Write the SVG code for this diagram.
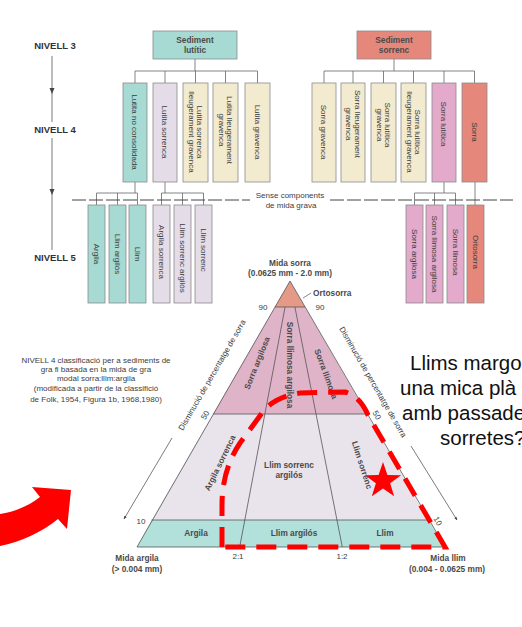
<svg xmlns="http://www.w3.org/2000/svg" width="522" height="627" viewBox="0 0 522 627">
<defs>
<style>
.t{font-family:"Liberation Sans",Arial,sans-serif;font-size:8px;fill:#3c3c3c}
.tb{font-family:"Liberation Sans",Arial,sans-serif;font-size:8.3px;font-weight:bold;fill:#4a4a4a}
.lv{font-family:"Liberation Sans",Arial,sans-serif;font-size:9.5px;font-weight:bold;fill:#333}
.big{font-family:"Liberation Sans",Arial,sans-serif;font-size:20.5px;fill:#111}
.box{stroke:#8a8a8a;stroke-width:0.8}
.teal{fill:#a6dad2}.lav{fill:#e4dde8}.cream{fill:#f3ebcf}.pink{fill:#e3aacb}.salmon{fill:#e5877b}
.conn{stroke:#666;stroke-width:0.8;fill:none}
.edge{stroke:#555;stroke-width:0.8;fill:none}
</style>
<marker id="ah" viewBox="0 0 10 10" refX="9" refY="5" markerWidth="5" markerHeight="5" orient="auto">
<path d="M0,1 L10,5 L0,9 Z" fill="#444"/>
</marker>
</defs>
<rect width="522" height="627" fill="#fff"/>

<g id="levels">
<text class="lv" x="55" y="49" text-anchor="middle">NIVELL 3</text>
<text class="lv" x="55" y="133" text-anchor="middle">NIVELL 4</text>
<text class="lv" x="55" y="261" text-anchor="middle">NIVELL 5</text>
<path d="M52,56 V122 M52,138 V250" stroke="#555" stroke-width="0.8"/>
<polygon points="49.5,88 54.5,88 52,94" fill="#444"/>
<polygon points="49.5,189 54.5,189 52,195" fill="#444"/>
</g>

<g id="connectors" class="conn">
<path d="M195,59 V71 M135,71 H257.5 M135,71 V83 M165,71 V83 M195.5,71 V83 M225.5,71 V83 M257.5,71 V83"/>
<path d="M394,59 V71 M324,71 H474.5 M324,71 V83 M353,71 V83 M383.5,71 V83 M413.5,71 V83 M444,71 V83 M474.5,71 V83"/>
<path d="M135,182 V193 M96.5,193 H137.5 M96.5,193 V205 M117.5,193 V205 M137.5,193 V205"/>
<path d="M165,182 V193 M161.5,193 H203.5 M161.5,193 V205 M182.5,193 V205 M203.5,193 V205"/>
<path d="M444,182 V193 M414.5,193 H455.5 M414.5,193 V205 M434.5,193 V205 M455.5,193 V205"/>
<path d="M475,182 V205"/>
<path d="M72,200 H250 M330,200 H513" stroke="#444" stroke-width="1" stroke-dasharray="14 3"/>
</g>
<g id="gravel-note">
<text class="t" x="290" y="198" text-anchor="middle">Sense components</text>
<text class="t" x="291" y="208" text-anchor="middle">de mida grava</text>
</g>

<g id="sediment-lutitic"><rect class="box teal" x="153" y="31" width="84" height="28"/>
<text class="tb" x="195" y="43" text-anchor="middle">Sediment</text><text class="tb" x="195" y="53" text-anchor="middle">lutític</text></g>
<g id="sediment-sorrenc"><rect class="box salmon" x="357" y="31" width="74" height="28"/>
<text class="tb" x="394" y="43" text-anchor="middle">Sediment</text><text class="tb" x="394" y="53" text-anchor="middle">sorrenc</text></g>

<g id="n4-lutita-no-consolidada"><rect class="box teal" x="123" y="83" width="24" height="99"/>
<text class="t" transform="translate(135,132) rotate(90)" text-anchor="middle" y="2.8">Lutita no consolidada</text></g>
<g id="n4-lutita-sorrenca"><rect class="box lav" x="153" y="83" width="24" height="99"/>
<text class="t" transform="translate(165,132) rotate(90)" text-anchor="middle" y="2.8">Lutita sorrenca</text></g>
<g id="n4-lutita-sorrenca-lleug-gravenca"><rect class="box cream" x="183" y="83" width="25" height="99"/>
<text class="t" transform="translate(195.5,132) rotate(90)" text-anchor="middle"><tspan x="0" y="-1.5">Lutita sorrenca</tspan><tspan x="0" y="7">lleugerament gravenca</tspan></text></g>
<g id="n4-lutita-lleug-gravenca"><rect class="box cream" x="213" y="83" width="25" height="99"/>
<text class="t" transform="translate(225.5,130) rotate(90)" text-anchor="middle"><tspan x="0" y="-1.5">Lutita lleugerament</tspan><tspan x="0" y="7">gravenca</tspan></text></g>
<g id="n4-lutita-gravenca"><rect class="box cream" x="245" y="83" width="25" height="99"/>
<text class="t" transform="translate(257.5,132) rotate(90)" text-anchor="middle" y="2.8">Lutita gravenca</text></g>

<g id="n4-sorra-gravenca"><rect class="box cream" x="312" y="83" width="24" height="99"/>
<text class="t" transform="translate(324,132) rotate(90)" text-anchor="middle" y="2.8">Sorra gravenca</text></g>
<g id="n4-sorra-lleug-gravenca"><rect class="box cream" x="341" y="83" width="24" height="99"/>
<text class="t" transform="translate(353,124) rotate(90)" text-anchor="middle"><tspan x="0" y="-1.5">Sorra lleugerament</tspan><tspan x="0" y="7">gravenca</tspan></text></g>
<g id="n4-sorra-lutitica-gravenca"><rect class="box cream" x="371" y="83" width="25" height="99"/>
<text class="t" transform="translate(383.5,125) rotate(90)" text-anchor="middle"><tspan x="0" y="-1.5">Sorra lutítica</tspan><tspan x="0" y="7">gravenca</tspan></text></g>
<g id="n4-sorra-lutitica-lleug-gravenca"><rect class="box cream" x="401" y="83" width="25" height="99"/>
<text class="t" transform="translate(413.5,132) rotate(90)" text-anchor="middle"><tspan x="0" y="-1.5">Sorra lutítica</tspan><tspan x="0" y="7">lleugerament gravenca</tspan></text></g>
<g id="n4-sorra-lutitica"><rect class="box pink" x="432" y="83" width="24" height="99"/>
<text class="t" transform="translate(444,124) rotate(90)" text-anchor="middle" y="2.8">Sorra lutítica</text></g>
<g id="n4-sorra"><rect class="box salmon" x="462" y="83" width="25" height="99"/>
<text class="t" transform="translate(474.5,132) rotate(90)" text-anchor="middle" y="2.8">Sorra</text></g>

<g id="n5-argila"><rect class="box teal" x="88" y="205" width="17" height="98"/>
<text class="t" transform="translate(96.5,254) rotate(90)" text-anchor="middle" y="2.8">Argila</text></g>
<g id="n5-llim-argilos"><rect class="box teal" x="109" y="205" width="17" height="98"/>
<text class="t" transform="translate(117.5,254) rotate(90)" text-anchor="middle" y="2.8">Llim argilós</text></g>
<g id="n5-llim"><rect class="box teal" x="129" y="205" width="17" height="98"/>
<text class="t" transform="translate(137.5,254) rotate(90)" text-anchor="middle" y="2.8">Llim</text></g>
<g id="n5-argila-sorrenca"><rect class="box lav" x="153" y="205" width="17" height="98"/>
<text class="t" transform="translate(161.5,252) rotate(90)" text-anchor="middle" y="2.8">Argila sorrenca</text></g>
<g id="n5-llim-sorrenc-argilos"><rect class="box lav" x="174" y="205" width="17" height="98"/>
<text class="t" transform="translate(182.5,258) rotate(90)" text-anchor="middle" y="2.8">Llim sorrenc argilós</text></g>
<g id="n5-llim-sorrenc"><rect class="box lav" x="195" y="205" width="17" height="98"/>
<text class="t" transform="translate(203.5,250) rotate(90)" text-anchor="middle" y="2.8">Llim sorrenc</text></g>

<g id="n5-sorra-argilosa"><rect class="box pink" x="406" y="205" width="17" height="98"/>
<text class="t" transform="translate(414.5,254) rotate(90)" text-anchor="middle" y="2.8">Sorra argilosa</text></g>
<g id="n5-sorra-llimosa-argilosa"><rect class="box pink" x="426" y="205" width="17" height="98"/>
<text class="t" transform="translate(434.5,254) rotate(90)" text-anchor="middle" y="2.8">Sorra llimosa argilosa</text></g>
<g id="n5-sorra-llimosa"><rect class="box pink" x="447" y="205" width="17" height="98"/>
<text class="t" transform="translate(455.5,252) rotate(90)" text-anchor="middle" y="2.8">Sorra llimosa</text></g>
<g id="n5-ortosorra"><rect class="box salmon" x="467" y="205" width="17" height="98"/>
<text class="t" transform="translate(475.5,252) rotate(90)" text-anchor="middle" y="2.8">Ortosorra</text></g>

<g id="note">
<text class="t" x="96" y="363" text-anchor="middle">NIVELL 4 classificació per a sediments de</text>
<text class="t" x="96" y="372" text-anchor="middle">gra fi basada en la mida de gra</text>
<text class="t" x="96" y="381" text-anchor="middle">modal sorra:llim:argila</text>
<text class="t" x="96" y="391" text-anchor="middle">(modificada a partir de la classifició</text>
<text class="t" x="96" y="402" text-anchor="middle">de Folk, 1954, Figura 1b, 1968,1980)</text>
</g>

<g id="triangle">
<polygon points="290,281 274.95,307 305.05,307" fill="#e49a86"/>
<polygon points="274.95,307 305.05,307 367,414 213,414" fill="#e0b4c8"/>
<polygon points="213,414 367,414 428.4,520 151.6,520" fill="#e9e3ec"/>
<polygon points="151.6,520 428.4,520 445,547 137,547" fill="#b2e0da"/>
<path class="edge" d="M274.95,307 H305.05 M213,414 H367 M151.6,520 H428.4 M285.1,307 L239.7,547 M294.9,307 L342.3,547"/>
<polygon class="edge" points="290,281 445,547 137,547"/>
<text class="tb" x="290" y="266" text-anchor="middle">Mida sorra</text>
<text class="tb" x="290" y="276" text-anchor="middle">(0.0625 mm - 2.0 mm)</text>
<path d="M303,298 L311,293" stroke="#555" stroke-width="0.7"/>
<text class="tb" x="313" y="296">Ortosorra</text>
<text class="t" x="263" y="310" text-anchor="middle">90</text>
<text class="t" x="320" y="310" text-anchor="middle">90</text>
<text class="t" transform="translate(205,415) rotate(-60)" text-anchor="middle" y="2.8">50</text>
<text class="t" transform="translate(377,415) rotate(60)" text-anchor="middle" y="2.8">50</text>
<text class="t" x="141" y="524" text-anchor="middle">10</text>
<text class="t" transform="translate(438,521) rotate(60)" text-anchor="middle" y="2.8">10</text>
<text class="t" x="238" y="559" text-anchor="middle">2:1</text>
<text class="t" x="342" y="559" text-anchor="middle">1:2</text>
<text class="tb" x="137" y="561" text-anchor="middle">Mida argila</text>
<text class="tb" x="137" y="572" text-anchor="middle">(&gt; 0.004 mm)</text>
<text class="tb" x="448" y="561" text-anchor="middle">Mida llim</text>
<text class="tb" x="447" y="572" text-anchor="middle">(0.004 - 0.0625 mm)</text>
<text class="tb" transform="translate(257,363) rotate(-68)" text-anchor="middle" y="2.8">Sorra argilosa</text>
<text class="tb" transform="translate(290,365) rotate(90)" text-anchor="middle" y="2.8">Sorra llimosa argilosa</text>
<text class="tb" transform="translate(326,374) rotate(70)" text-anchor="middle" y="2.8">Sorra llimosa</text>
<text class="tb" transform="translate(220,463) rotate(-64)" text-anchor="middle" y="2.8">Argila sorrenca</text>
<text class="tb" transform="translate(362,465) rotate(72)" text-anchor="middle" y="2.8">Llim sorrenc</text>
<text class="tb" x="289" y="468" text-anchor="middle">Llim sorrenc</text>
<text class="tb" x="289" y="478" text-anchor="middle">argilós</text>
<text class="tb" x="196" y="536" text-anchor="middle">Argila</text>
<text class="tb" x="294" y="536" text-anchor="middle">Llim argilós</text>
<text class="tb" x="385" y="536" text-anchor="middle">Llim</text>
<text class="t" transform="translate(212,375) rotate(-60)" text-anchor="middle" y="2.8">Disminució de percentatge de sorra</text>
<text class="t" transform="translate(373,382) rotate(60)" text-anchor="middle" y="2.8">Disminució de percentatge de sorra</text>
<path d="M172,438 L124,519" stroke="#444" stroke-width="0.7" marker-end="url(#ah)"/>
<path d="M411,446 L457,520" stroke="#444" stroke-width="0.7" marker-end="url(#ah)"/>
</g>

<g id="annotation">
<path d="M222,547 L222,505 Q222,470 240,443 L265,409 Q278,396 300,393 L345,392 Q360,396 368,415 L445,547 Z" fill="none" stroke="#f00" stroke-width="5" stroke-dasharray="20 11"/>
<polygon points="383,462 387.41,474.93 401.07,475.13 390.13,483.32 394.17,496.37 383,488.5 371.83,496.37 375.87,483.32 364.93,475.13 378.59,474.93" fill="#f00"/>
<path d="M0,514 C15,512 30,505 40,497 L32,487 L71,490 L67,529 L58,519 C42,532 20,542 0,546 Z" fill="#f00"/>
<text class="big" x="410" y="370">Llims margo</text>
<text class="big" x="400" y="395">una mica plà</text>
<text class="big" x="402" y="420">amb passade</text>
<text class="big" x="440" y="445">sorretes?</text>
</g>
</svg>
